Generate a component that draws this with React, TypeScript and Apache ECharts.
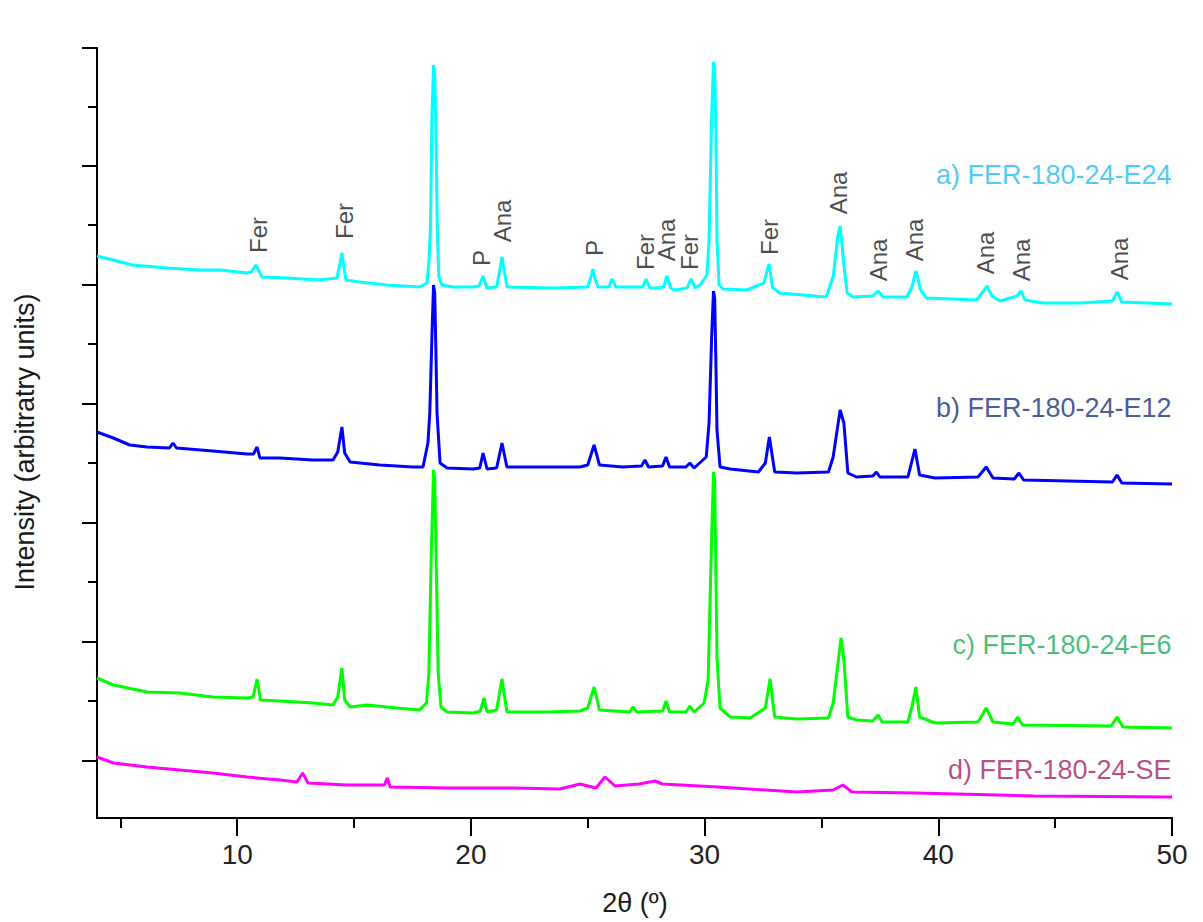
import React, { useEffect, useRef } from "react";
import * as echarts from "echarts";

// 2θ (degrees) vs intensity (arbitrary units, patterns offset vertically)
const patternE24: number[][] = [
  [4.0, 562], [4.7, 558], [5.5, 553], [7.0, 550], [8.4, 548], [9.3, 548], [10.4, 545], [10.6, 546],
  [10.8, 553], [11.06, 541], [12.1, 540], [13.5, 538], [14.27, 540], [14.4, 555], [14.48, 565],
  [14.56, 552], [14.65, 538], [15.25, 536], [16.4, 533], [17.8, 531], [18.12, 535], [18.2, 555],
  [18.27, 590], [18.33, 700], [18.4, 753], [18.45, 745], [18.5, 690], [18.56, 590], [18.63, 541],
  [18.76, 533], [19.23, 531], [20.1, 531], [20.35, 532], [20.52, 542], [20.68, 530], [21.1, 531],
  [21.25, 550], [21.33, 561], [21.42, 548], [21.55, 531], [23.5, 530], [25.0, 531], [25.15, 542],
  [25.22, 549], [25.3, 540], [25.44, 531], [25.9, 531], [26.04, 539], [26.2, 531], [26.7, 531],
  [27.35, 531], [27.49, 539], [27.65, 530], [27.96, 530], [28.25, 531], [28.39, 542], [28.55, 530],
  [28.73, 528], [29.25, 530], [29.42, 539], [29.6, 530], [29.8, 533], [30.1, 543], [30.19, 578],
  [30.3, 700], [30.38, 756], [30.43, 750], [30.48, 690], [30.53, 578], [30.62, 533], [30.8, 529],
  [31.8, 528], [32.54, 535], [32.68, 548], [32.76, 554], [32.9, 531], [33.2, 525], [35.2, 521],
  [35.5, 541], [35.7, 582], [35.8, 592], [35.97, 551], [36.1, 525], [36.35, 521], [37.2, 522],
  [37.42, 527], [37.63, 521], [38.66, 521], [38.87, 531], [39.04, 547], [39.25, 528], [39.5, 520],
  [41.65, 518], [41.9, 526], [42.08, 532], [42.3, 522], [42.64, 517], [43.37, 522], [43.54, 527],
  [43.71, 518], [44.48, 515], [46.06, 515], [47.45, 517], [47.65, 526], [47.85, 516], [50.0, 514],
];

const patternE12: number[][] = [
  [4.0, 386], [4.7, 380], [5.4, 373], [6.14, 371], [7.1, 370], [7.25, 375], [7.4, 370], [8.96, 367],
  [10.42, 364], [10.7, 364], [10.85, 371], [10.97, 360], [11.83, 360], [13.24, 358], [14.1, 358],
  [14.3, 366], [14.48, 391], [14.6, 365], [14.83, 356], [16.1, 353], [17.52, 351], [17.95, 351],
  [18.16, 375], [18.24, 405], [18.33, 480], [18.4, 533], [18.45, 525], [18.5, 470], [18.55, 405],
  [18.68, 355], [18.98, 350], [20.1, 349], [20.38, 350], [20.52, 365], [20.69, 349], [21.1, 350],
  [21.33, 375], [21.54, 351], [24.67, 351], [25.0, 353], [25.27, 373], [25.5, 353], [26.5, 351],
  [27.3, 352], [27.45, 358], [27.6, 351], [28.2, 352], [28.35, 361], [28.5, 351], [29.2, 351],
  [29.37, 355], [29.55, 350], [30.07, 361], [30.19, 395], [30.3, 480], [30.38, 527], [30.43, 520],
  [30.48, 460], [30.53, 388], [30.66, 351], [31.1, 349], [32.3, 346], [32.6, 355], [32.77, 381],
  [33.0, 346], [33.95, 345], [35.3, 346], [35.5, 361], [35.8, 408], [35.96, 395], [36.13, 345],
  [36.5, 341], [37.2, 342], [37.35, 346], [37.5, 341], [38.7, 341], [38.85, 355], [39.0, 369],
  [39.2, 343], [39.86, 340], [41.7, 341], [42.05, 351], [42.34, 340], [43.25, 339], [43.45, 345],
  [43.65, 338], [47.45, 336], [47.65, 343], [47.85, 335], [50.0, 334],
];

const patternE6: number[][] = [
  [4.0, 140], [4.7, 133], [6.14, 126], [7.55, 125], [8.96, 121], [10.42, 120], [10.68, 121],
  [10.85, 139], [11.0, 118], [11.83, 117], [13.24, 115], [14.1, 113], [14.3, 121], [14.48, 150],
  [14.6, 118], [14.83, 111], [15.55, 113], [16.84, 110], [17.8, 108], [18.1, 115], [18.2, 145],
  [18.3, 260], [18.4, 348], [18.45, 340], [18.52, 250], [18.6, 145], [18.72, 111], [18.98, 106],
  [20.1, 105], [20.4, 107], [20.56, 120], [20.69, 106], [21.1, 108], [21.33, 139], [21.54, 106],
  [23.26, 106], [24.67, 107], [25.0, 110], [25.27, 131], [25.5, 108], [26.8, 106], [26.93, 111],
  [27.1, 106], [28.2, 107], [28.35, 117], [28.5, 106], [29.2, 106], [29.37, 112], [29.55, 106],
  [29.98, 115], [30.15, 138], [30.3, 280], [30.38, 346], [30.43, 338], [30.53, 161], [30.66, 110],
  [31.1, 101], [31.95, 100], [32.6, 110], [32.8, 139], [33.0, 101], [33.95, 99], [35.3, 100],
  [35.5, 115], [35.84, 180], [35.96, 158], [36.13, 101], [36.5, 98], [37.2, 97], [37.42, 103],
  [37.6, 96], [38.7, 96], [38.87, 111], [39.04, 131], [39.2, 101], [39.86, 95], [41.7, 96],
  [42.05, 110], [42.34, 96], [43.2, 94], [43.4, 101], [43.6, 93], [47.4, 92], [47.65, 101],
  [47.9, 91], [50.0, 90],
];

const patternSE: number[][] = [
  [4.0, 61], [4.7, 55], [6.14, 51], [7.55, 48], [8.96, 45], [10.42, 41], [11.83, 38], [12.56, 36],
  [12.8, 45], [13.03, 35], [14.7, 33], [16.3, 33], [16.42, 40], [16.55, 31], [18.98, 30], [21.8, 30],
  [23.8, 29], [24.67, 34], [25.35, 30], [25.74, 41], [26.17, 32], [27.2, 34], [27.88, 37], [28.2, 34],
  [30.57, 31], [33.95, 26], [35.5, 28], [35.92, 33], [36.3, 26], [39.04, 25], [44.1, 22], [50.0, 21],
];

const seriesNames = ["a) FER-180-24-E24", "b) FER-180-24-E12", "c) FER-180-24-E6", "d) FER-180-24-SE"];
const seriesLabelY = [643, 410, 173, 48];

const peakTags = ["Fer", "Fer", "Ana", "P", "Ana", "P", "Fer", "Ana", "Fer", "Ana", "Fer", "Ana", "Ana", "Ana", "Ana", "Ana", "Ana"];
const peakTagX = [10.89, 14.57, 18.42, 20.45, 21.37, 25.3, 27.45, 28.39, 29.37, 30.4, 32.76, 35.75, 37.46, 38.96, 42.04, 43.58, 47.77];
const peakTagY = [583, 597, 783, 560, 597, 570, 566, 578, 566, 791, 581, 625, 558, 578, 565, 558, 559];

const xMajorTicks = [10, 20, 30, 40, 50];
const xMinorTicks = [5, 15, 25, 35, 45];
const yMajorTicks = [57, 176, 295, 414, 533, 652, 770];
const yMinorTicks = [117, 236, 355, 474, 593, 711];

const lineColors = ["#00ffff", "#0000ff", "#00ff00", "#ff00ff"];
const labelColors = ["#1fbdf0", "#1a2f78", "#1cad52", "#a81e64"];

const FONT = "'Liberation Sans', Arial, sans-serif";

export default function App() {
  const ref = useRef<HTMLDivElement>(null);
  useEffect(() => {
    if (!ref.current) return;
    const chart = echarts.init(ref.current, undefined, { renderer: "svg" });
    const patterns = [patternE24, patternE12, patternE6, patternSE];
    const axisLine = { show: true, lineStyle: { color: "#000", width: 2 } };
    const option: any = {
      animation: false,
      backgroundColor: "#ffffff",
      grid: { left: 97, right: 31, top: 48, bottom: 104, containLabel: false },
      xAxis: [
        {
          type: "value", min: 4, max: 50, position: "bottom",
          axisLine,
          axisTick: { show: true, customValues: xMajorTicks, length: 18, lineStyle: { color: "#000", width: 2 } },
          axisLabel: { show: true, customValues: xMajorTicks, margin: 22, fontSize: 28, color: "#222", fontFamily: FONT },
          splitLine: { show: false },
        },
        {
          type: "value", min: 4, max: 50, position: "bottom",
          axisLine,
          axisTick: { show: true, customValues: xMinorTicks, length: 10, lineStyle: { color: "#000", width: 2 } },
          axisLabel: { show: false },
          splitLine: { show: false },
        },
      ],
      yAxis: [
        {
          type: "value", min: 0, max: 770, position: "left",
          axisLine,
          axisTick: { show: true, customValues: yMajorTicks, length: 15, lineStyle: { color: "#000", width: 2 } },
          axisLabel: { show: false },
          splitLine: { show: false },
        },
        {
          type: "value", min: 0, max: 770, position: "left",
          axisLine,
          axisTick: { show: true, customValues: yMinorTicks, length: 9, lineStyle: { color: "#000", width: 2 } },
          axisLabel: { show: false },
          splitLine: { show: false },
        },
      ],
      series: [
        ...patterns.map((d, i) => ({
          type: "line",
          name: seriesNames[i],
          data: d,
          xAxisIndex: 0,
          yAxisIndex: 0,
          showSymbol: false,
          symbol: "none",
          lineStyle: { color: lineColors[i], width: 3 },
          z: 4 - i,
          silent: true,
        })),
        {
          type: "scatter",
          xAxisIndex: 0,
          yAxisIndex: 0,
          symbolSize: 1,
          itemStyle: { color: "rgba(0,0,0,0)" },
          silent: true,
          data: peakTags.map((t, i) => ({ name: t, value: [peakTagX[i], peakTagY[i]] })),
          label: {
            show: true,
            position: "inside",
            rotate: 90,
            formatter: "{b}",
            fontSize: 24,
            color: "#1a1a1a",
            fontFamily: FONT,
          },
          z: 10,
        },
        {
          type: "scatter",
          xAxisIndex: 0,
          yAxisIndex: 0,
          symbolSize: 1,
          itemStyle: { color: "rgba(0,0,0,0)" },
          silent: true,
          data: seriesNames.map((n, i) => ({
            name: n,
            value: [50, seriesLabelY[i]],
            label: { color: labelColors[i] },
          })),
          label: {
            show: true,
            position: "left",
            distance: 0,
            formatter: "{b}",
            fontSize: 27,
            fontFamily: FONT,
          },
          z: 10,
        },
      ],
      graphic: [
        {
          type: "text",
          x: 25,
          y: 442,
          rotation: Math.PI / 2,
          style: {
            text: "Intensity (arbitratry units)",
            fontSize: 27,
            fontFamily: FONT,
            fill: "#1a1a1a",
            textAlign: "center",
            textVerticalAlign: "middle",
          },
        },
        {
          type: "text",
          x: 635,
          y: 903,
          style: {
            text: "2θ (º)",
            fontSize: 27,
            fontFamily: FONT,
            fill: "#1a1a1a",
            textAlign: "center",
            textVerticalAlign: "middle",
          },
        },
      ],
    };
    chart.setOption(option);
    return () => chart.dispose();
  }, []);
  return (
    <div
      ref={ref}
      style={{ position: "absolute", left: 0, top: 0, width: 1203, height: 922, background: "#fff" }}
    />
  );
}
